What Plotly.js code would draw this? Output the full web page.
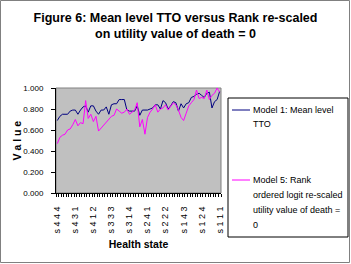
<!DOCTYPE html>
<html>
<head>
<meta charset="utf-8">
<script src="https://cdn.plot.ly/plotly-3.0.1.min.js"></script>
<style>
  html, body { margin: 0; padding: 0; background: #ffffff; }
  #chart { width: 351px; height: 264px; }
</style>
</head>
<body>
<div id="chart"></div>
<script>
// Health states, ordered from worst (s 4 4 4) to best (s 1 1 1)
const states = [
  's 4 4 4','s 4 4 3','s 4 4 2','s 4 4 1','s 4 3 4','s 4 3 3','s 4 3 2','s 4 3 1',
  's 4 2 4','s 4 2 3','s 4 2 2','s 4 2 1','s 4 1 4','s 4 1 3','s 4 1 2','s 4 1 1',
  's 3 4 4','s 3 4 3','s 3 4 2','s 3 4 1','s 3 3 4','s 3 3 3','s 3 3 2','s 3 3 1',
  's 3 2 4','s 3 2 3','s 3 2 2','s 3 2 1','s 3 1 4','s 3 1 3','s 3 1 2','s 3 1 1',
  's 2 4 4','s 2 4 3','s 2 4 2','s 2 4 1','s 2 3 4','s 2 3 3','s 2 3 2','s 2 3 1',
  's 2 2 4','s 2 2 3','s 2 2 2','s 2 2 1','s 2 1 4','s 2 1 3','s 2 1 2','s 2 1 1',
  's 1 4 4','s 1 4 3','s 1 4 2','s 1 4 1','s 1 3 4','s 1 3 3','s 1 3 2','s 1 3 1',
  's 1 2 4','s 1 2 3','s 1 2 2','s 1 2 1','s 1 1 4','s 1 1 3','s 1 1 2','s 1 1 1'
];

// States that carry a label on the category axis
const labelledStates = [
  's 4 4 4','s 4 3 1','s 4 1 2','s 3 3 3','s 3 1 4',
  's 2 4 1','s 2 2 2','s 1 4 3','s 1 2 4','s 1 1 1'
];

// Model 1: Mean level TTO
const model1Values = [
  0.69,0.73,0.75,0.75,0.75,0.78,0.79,0.79,
  0.75,0.79,0.82,0.83,0.77,0.83,0.83,0.78,
  0.75,0.79,0.79,0.82,0.75,0.84,0.85,0.85,
  0.89,0.89,0.89,0.79,0.78,0.78,0.78,0.83,
  0.74,0.79,0.79,0.79,0.80,0.81,0.84,0.84,
  0.80,0.88,0.86,0.80,0.83,0.87,0.86,0.78,
  0.85,0.81,0.85,0.86,0.91,0.92,0.94,0.95,
  0.93,0.91,0.95,0.96,0.81,0.87,0.89,0.97
];

// Model 5: Rank ordered logit re-scaled, utility value of death = 0
const model5Values = [
  0.47,0.53,0.55,0.56,0.60,0.61,0.65,0.70,
  0.64,0.67,0.66,0.88,0.71,0.75,0.68,0.73,
  0.59,0.62,0.64,0.67,0.71,0.73,0.74,0.80,
  0.78,0.76,0.77,0.80,0.75,0.77,0.79,0.86,
  0.63,0.70,0.56,0.72,0.77,0.80,0.84,0.77,
  0.80,0.81,0.84,0.79,0.83,0.86,0.84,0.79,
  0.72,0.69,0.76,0.83,0.86,0.89,0.98,0.90,
  0.91,0.90,0.98,0.89,0.93,0.95,1.00,0.96
];

const seriesNames = [
  'Model 1: Mean level TTO',
  'Model 5: Rank ordered logit re-scaled utility value of death = 0'
];
const seriesColors = ['#000080', '#FF00FF'];

const NARROW = 'Liberation Sans Narrow, Arial Narrow, Liberation Sans, Arial, sans-serif';
const SANS = 'Liberation Sans, Arial, sans-serif';

const W = 351, H = 264;
const M = { l: 56, r: 130, t: 88, b: 71 };
const pw = W - M.l - M.r, ph = H - M.t - M.b;
// pixel -> paper coordinates
const px = x => (x - M.l) / pw;
const py = y => (H - M.b - y) / ph;

const traces = [
  { x: states, y: model1Values, name: seriesNames[0], type: 'scatter', mode: 'lines',
    line: { color: seriesColors[0], width: 1 } },
  { x: states, y: model5Values, name: seriesNames[1], type: 'scatter', mode: 'lines',
    line: { color: seriesColors[1], width: 1 } }
];

// Legend box drawn beside the plot
const legendLines = [
  { y: 110, text: 'Model 1: Mean level' },
  { y: 124, text: 'TTO' },
  { y: 180, text: 'Model 5: Rank' },
  { y: 195, text: 'ordered logit re-scaled' },
  { y: 210, text: 'utility value of death =' },
  { y: 225, text: '0' }
];

const annotations = legendLines.map(l => ({
  xref: 'paper', yref: 'paper', x: px(251), y: py(l.y),
  xanchor: 'left', yanchor: 'middle', showarrow: false,
  text: l.text, font: { family: SANS, size: 9, color: '#000' }
}));

// Value-axis title
annotations.push({
  xref: 'paper', yref: 'paper', x: px(16), y: 0.5,
  xanchor: 'center', yanchor: 'middle', showarrow: false, textangle: -90,
  text: '<b>V a l u e</b>', font: { family: NARROW, size: 10.5, color: '#000' }
});

const shapes = [
  // chart frame
  { type: 'rect', xref: 'paper', yref: 'paper', x0: px(0.5), x1: px(349.5), y0: py(262.5), y1: py(0.5),
    line: { color: '#808080', width: 1 } },
  // plot area frame
  { type: 'rect', xref: 'paper', yref: 'paper', x0: 0, x1: 1, y0: 0, y1: 1, layer: 'below',
    line: { color: '#808080', width: 1 } },
  // legend frame
  { type: 'rect', xref: 'paper', yref: 'paper', x0: px(228), x1: px(348), y0: py(237), y1: py(98),
    line: { color: '#000', width: 1 } },
  // legend keys
  { type: 'line', xref: 'paper', yref: 'paper', x0: px(232), x1: px(250), y0: py(110), y1: py(110),
    line: { color: seriesColors[0], width: 1 } },
  { type: 'line', xref: 'paper', yref: 'paper', x0: px(232), x1: px(250), y0: py(180), y1: py(180),
    line: { color: seriesColors[1], width: 1 } }
];

const layout = {
  width: W, height: H,
  margin: M,
  paper_bgcolor: '#ffffff',
  plot_bgcolor: '#c0c0c0',
  showlegend: false,
  title: {
    text: '<b>Figure 6: Mean level TTO versus Rank re-scaled<br>on utility value of death = 0</b>',
    font: { family: NARROW, size: 12.5, color: '#000' },
    x: 0.5, xref: 'container', xanchor: 'center',
    y: 1 - 22 / H, yref: 'container', yanchor: 'top'
  },
  xaxis: {
    type: 'category',
    range: [-0.5, states.length - 0.5],
    tickmode: 'array',
    tickvals: states,
    ticktext: states.map(s => labelledStates.includes(s) ? s : ''),
    tickson: 'boundaries',
    ticks: 'outside', ticklen: 3, tickwidth: 1, tickcolor: '#000',
    ticklabelstandoff: 9,
    tickangle: -90,
    tickfont: { family: SANS, size: 9, color: '#000' },
    showline: true, linecolor: '#000', linewidth: 1,
    showgrid: false, zeroline: false, fixedrange: true,
    title: { text: '<b>Health state</b>', font: { family: NARROW, size: 10.5, color: '#000' }, standoff: 8 }
  },
  yaxis: {
    range: [0, 1],
    tickmode: 'linear', tick0: 0, dtick: 0.2,
    tickformat: '.3f',
    ticks: 'outside', ticklen: 4, tickwidth: 1, tickcolor: '#000',
    ticklabelstandoff: 6,
    tickfont: { family: NARROW, size: 8, color: '#000' },
    showline: true, linecolor: '#000', linewidth: 1,
    showgrid: false, zeroline: false, fixedrange: true
  },
  shapes: shapes,
  annotations: annotations
};

Plotly.newPlot('chart', traces, layout, { staticPlot: true, displayModeBar: false });
</script>
</body>
</html>
